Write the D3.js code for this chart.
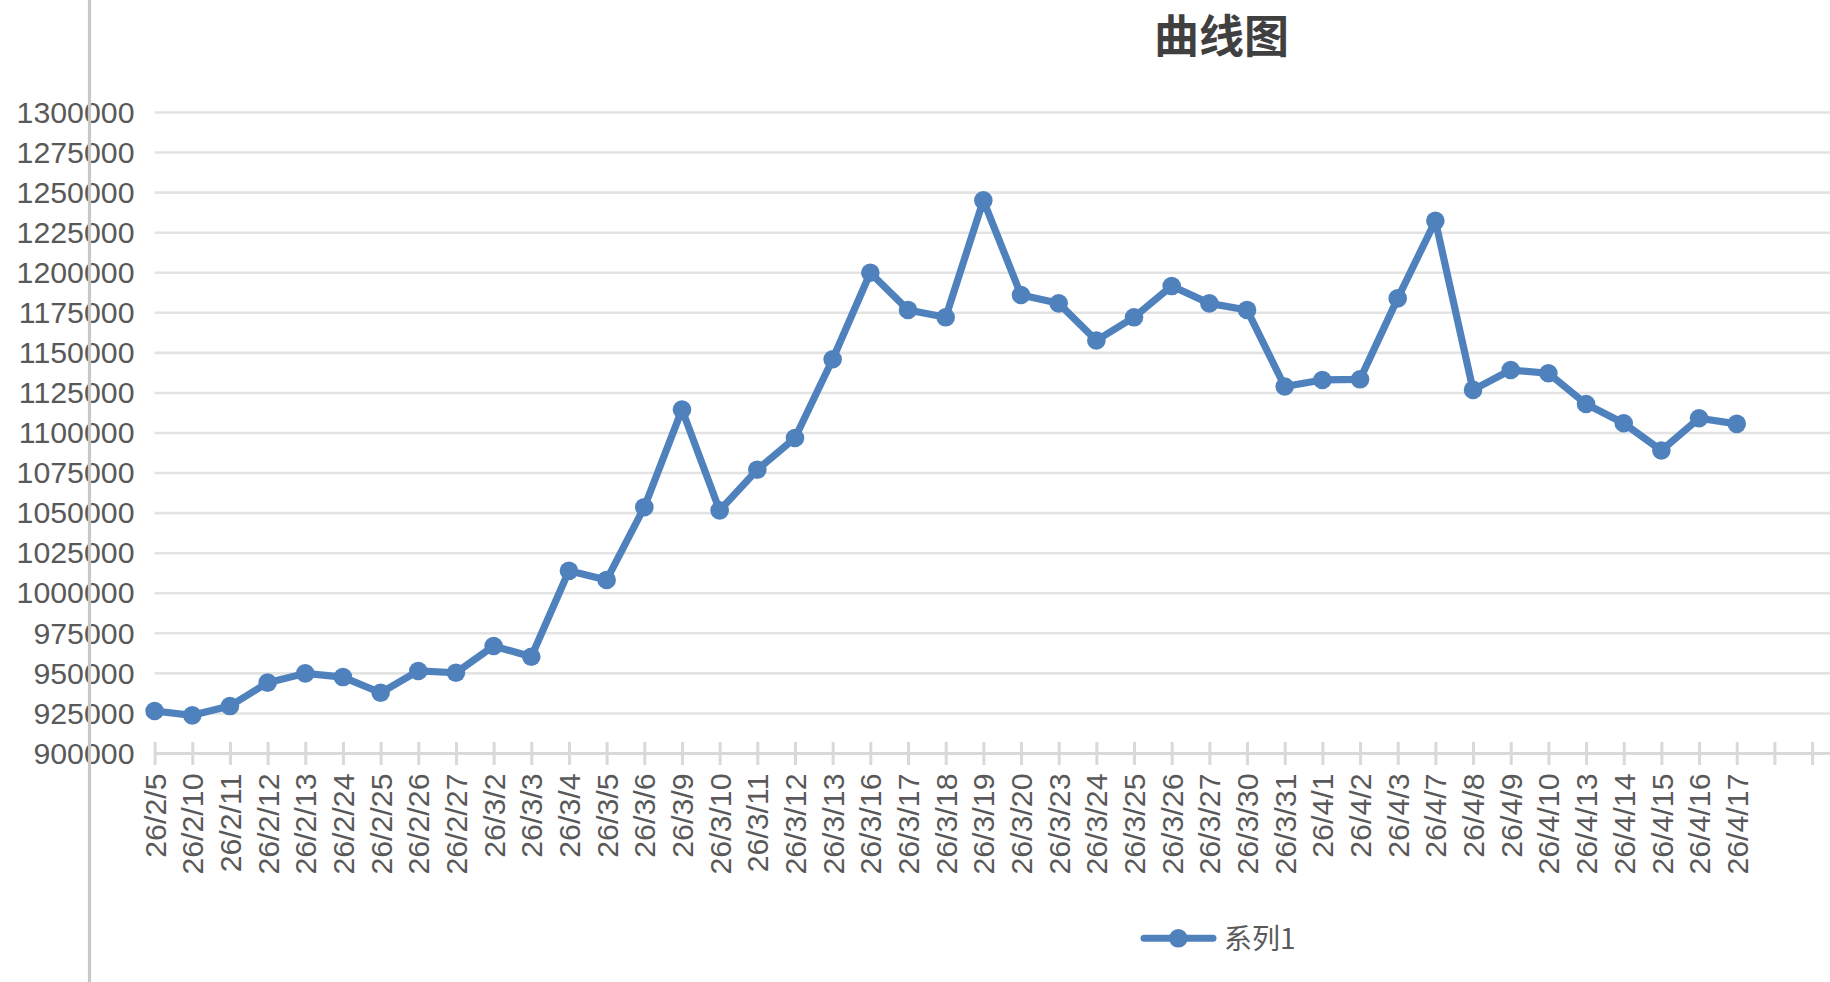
<!DOCTYPE html>
<html>
<head>
<meta charset="utf-8">
<script src="https://cdn.jsdelivr.net/npm/d3@7"></script>
<style>
  html, body { margin: 0; padding: 0; background: #fff; overflow: hidden; }
  svg { display: block; }
</style>
</head>
<body>
<svg id="chart" width="1830" height="982"></svg>
<script>
// ---- data ----
const title = "曲线图";
const seriesName = "系列1";
const categories = [
  "26/2/5","26/2/10","26/2/11","26/2/12","26/2/13","26/2/24","26/2/25","26/2/26","26/2/27",
  "26/3/2","26/3/3","26/3/4","26/3/5","26/3/6","26/3/9","26/3/10","26/3/11","26/3/12","26/3/13",
  "26/3/16","26/3/17","26/3/18","26/3/19","26/3/20","26/3/23","26/3/24","26/3/25","26/3/26","26/3/27",
  "26/3/30","26/3/31","26/4/1","26/4/2","26/4/3","26/4/7","26/4/8","26/4/9","26/4/10","26/4/13",
  "26/4/14","26/4/15","26/4/16","26/4/17"
];
const values = [
  926500, 923800, 929600, 944200, 950000, 947700, 937900, 951500, 950400,
  967100, 960400, 1014000, 1008300, 1053700, 1114600, 1051700, 1077100, 1096900, 1146000,
  1200000, 1176800, 1172200, 1245200, 1186100, 1180900, 1157700, 1172200, 1191700, 1180900,
  1176800, 1129000, 1133100, 1133500, 1184000, 1232400, 1126900, 1139300, 1137300, 1118100,
  1106100, 1089100, 1109200, 1105700
];
const emptySlots = 2;            // blank category slots after the last date
const yTicks = d3.range(900000, 1300001, 25000);

// ---- layout ----
const W = 1830, H = 982;
const svg = d3.select("#chart");
const labelFont = "'Liberation Sans', Arial, Helvetica, sans-serif";
const cjkFont = "'Noto Sans CJK SC', 'Noto Sans', sans-serif";
const lineColor = "#4f81bd";
const textColor = "#595959";

const x = d3.scalePoint()
  .domain(d3.range(categories.length + emptySlots))
  .range([154.6, 154.6 + 37.67 * (categories.length + emptySlots - 1)]);
const y = d3.scaleLinear().domain([900000, 1300000]).range([753.5, 112.5]);

const plotLeft = x(0), plotRight = W;

// gridlines
svg.append("g").selectAll("line")
  .data(yTicks.filter(v => v > 900000))
  .join("line")
  .attr("x1", plotLeft).attr("x2", plotRight)
  .attr("y1", d => y(d)).attr("y2", d => y(d))
  .attr("stroke", "#e3e3e3").attr("stroke-width", 2.6);

// y axis labels
const yAxis = d3.axisLeft(y).tickValues(yTicks).tickSize(0).tickPadding(0).tickFormat(d3.format("d"));
const gy = svg.append("g").attr("transform", "translate(134.5,0)").call(yAxis);
gy.select(".domain").remove();
gy.selectAll("text")
  .attr("font-family", labelFont).attr("font-size", 30.3).attr("fill", textColor);

// x axis
const xAxis = d3.axisBottom(x).tickSize(11).tickPadding(0)
  .tickFormat(i => categories[i] || "");
const gx = svg.append("g").attr("transform", `translate(0,${y(900000)})`).call(xAxis);
gx.select(".domain").remove();
gx.append("line")
  .attr("x1", plotLeft).attr("x2", plotRight).attr("y1", 0).attr("y2", 0)
  .attr("stroke", "#d9d9d9").attr("stroke-width", 3);
gx.selectAll(".tick line")
  .attr("y1", -11.5).attr("y2", 11.5)
  .attr("stroke", "#d9d9d9").attr("stroke-width", 3);
gx.selectAll(".tick text")
  .attr("font-family", labelFont).attr("font-size", 30.3).attr("fill", textColor)
  .attr("transform", "rotate(-90)")
  .attr("text-anchor", "end")
  .attr("x", -20).attr("y", 0).attr("dy", "0.35em");

// line series
svg.append("path")
  .datum(values)
  .attr("fill", "none")
  .attr("stroke", lineColor)
  .attr("stroke-width", 7.2)
  .attr("stroke-linejoin", "round")
  .attr("d", d3.line().x((d, i) => x(i)).y(d => y(d)));
svg.append("g").selectAll("circle")
  .data(values)
  .join("circle")
  .attr("cx", (d, i) => x(i)).attr("cy", d => y(d))
  .attr("r", 9.3).attr("fill", lineColor);

// left border line (drawn over labels)
svg.append("line")
  .attr("x1", 89.5).attr("x2", 89.5).attr("y1", 0).attr("y2", H)
  .attr("stroke", "#c8c8c8").attr("stroke-width", 3.2);

// title
svg.append("text")
  .attr("x", 1221.5).attr("y", 53)
  .attr("text-anchor", "middle")
  .attr("font-family", cjkFont).attr("font-weight", "bold")
  .attr("font-size", 45).attr("fill", "#404040")
  .text(title);

// legend
const lg = svg.append("g");
lg.append("line")
  .attr("x1", 1144).attr("x2", 1213).attr("y1", 938.3).attr("y2", 938.3)
  .attr("stroke", lineColor).attr("stroke-width", 7).attr("stroke-linecap", "round");
lg.append("circle").attr("cx", 1178.3).attr("cy", 938.3).attr("r", 9.3).attr("fill", lineColor);
lg.append("text")
  .attr("x", 1224).attr("y", 949)
  .attr("font-family", cjkFont).attr("font-size", 28).attr("fill", textColor)
  .text(seriesName);
</script>
</body>
</html>
